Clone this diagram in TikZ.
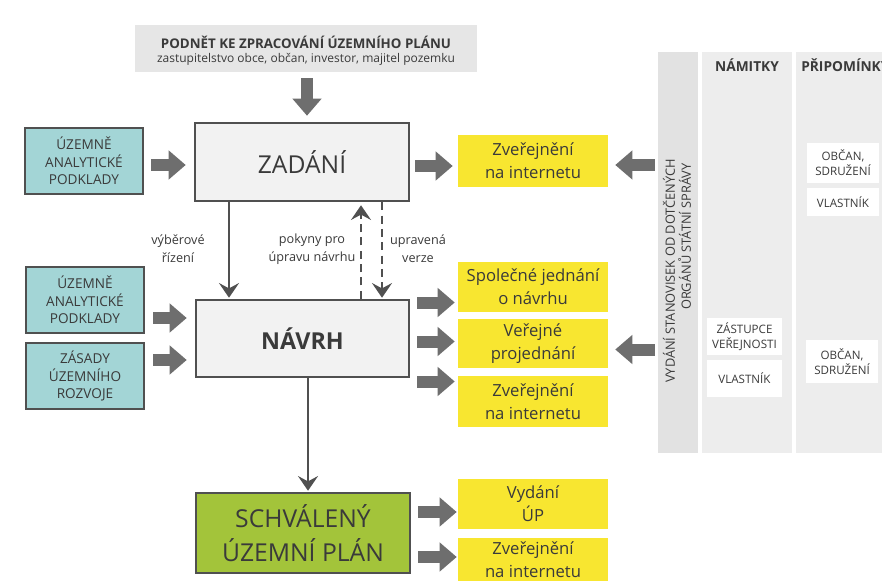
\documentclass[tikz,border=0pt]{standalone}
\usepackage{fontspec}
\setmainfont{Open Sans}
\usetikzlibrary{arrows.meta}
\definecolor{txt}{RGB}{58,58,58}
\definecolor{frame}{RGB}{80,80,80}
\definecolor{lightbox}{RGB}{242,242,242}
\definecolor{podnetc}{RGB}{230,230,230}
\definecolor{cyanc}{RGB}{163,213,214}
\definecolor{yel}{RGB}{248,230,48}
\definecolor{grn}{RGB}{163,196,58}
\definecolor{arrowc}{RGB}{110,110,110}
\definecolor{colA}{RGB}{226,226,226}
\definecolor{colB}{RGB}{237,237,237}
\begin{document}
\begin{tikzpicture}[x=0.75pt,y=-0.75pt,
  every node/.style={text=txt, inner sep=0pt, align=center},
  sz/.style 2 args={minimum width=#1*0.75pt, minimum height=#2*0.75pt},
  bigbox/.style={draw=frame, line width=1.9pt, fill=lightbox, font=\fontsize{18.5}{22}\selectfont},
  cyanbox/.style={draw=frame, line width=1.6pt, fill=cyanc, sz={118}{66}, font=\fontsize{10.2}{13.3}\selectfont},
  yelbox/.style={fill=yel, sz={150}{50}, font=\fontsize{12.5}{17.5}\selectfont},
  lbl/.style={font=\fontsize{9.5}{13.3}\selectfont},
  whitebox/.style={fill=white, font=\fontsize{8.7}{11.25}\selectfont},
  colbox/.style={fill=colB},
  blk/.style={draw=arrowc, line width=9pt, -{Triangle[length=12.75pt, width=21pt]}},
  thinarr/.style={draw=frame, line width=1.8pt, -{Stealth[length=11pt, width=15pt, inset=4pt]}},
  dasharr/.style={thinarr, dash pattern=on 6pt off 4pt}
]
\clip (0,0) rectangle (882,581);
\fill[white] (0,0) rectangle (882,581);

% top source
\node[fill=podnetc, sz={342}{47}] (podnet) at (306,48.5) {};
\node[font=\fontsize{10}{12.5}\selectfont\bfseries] (podnetT) at (306,42) {PODNĚT KE ZPRACOVÁNÍ ÚZEMNÍHO PLÁNU};
\node[font=\fontsize{9}{12}\selectfont] (podnetS) at (306,59) {zastupitelstvo obce, občan, investor, majitel pozemku};

% main boxes
\node[bigbox, sz={214}{78}] (zadani) at (302,162) {ZADÁNÍ};
\node[bigbox, sz={213}{77}, font=\fontsize{17.5}{22}\selectfont\bfseries] (navrh) at (302.5,338.5) {NÁVRH};
\node[bigbox, fill=grn, sz={214}{80}, font=\fontsize{18.5}{25}\selectfont] (schval) at (303,533) {SCHVÁLENÝ\\ÚZEMNÍ PLÁN};

% cyan inputs
\node[cyanbox] (c1) at (84,161) {ÚZEMNĚ\\ANALYTICKÉ\\PODKLADY};
\node[cyanbox] (c2) at (85,300) {ÚZEMNĚ\\ANALYTICKÉ\\PODKLADY};
\node[cyanbox] (c3) at (85,376) {ZÁSADY\\ÚZEMNÍHO\\ROZVOJE};

% yellow outputs
\node[yelbox, sz={150}{52}] (y1) at (533,161) {Zveřejnění\\na internetu};
\node[yelbox] (y2) at (533,287) {Společné jednání\\o návrhu};
\node[yelbox, sz={150}{49}] (y3) at (533,343.5) {Veřejné\\projednání};
\node[yelbox, sz={150}{51}] (y4) at (533,401.5) {Zveřejnění\\na internetu};
\node[yelbox] (y5) at (533,504) {Vydání\\ÚP};
\node[yelbox, sz={150}{43}] (y6) at (533,559.5) {Zveřejnění\\na internetu};

% right panel
\node[colbox, fill=colA, sz={40}{401}] (col1) at (678,252.5) {};
\node[colbox, sz={90}{401}] (col2) at (747,252.5) {};
\node[colbox, sz={99}{401}] (col3) at (845.5,252.5) {};
\node[rotate=90, font=\fontsize{9.6}{12}\selectfont, align=right] (stan) at (677,271) {VYDÁNÍ STANOVISEK OD DOTČENÝCH\\ORGÁNŮ STÁTNÍ SPRÁVY\kern3pt};
\node[font=\fontsize{10.3}{12}\selectfont\bfseries] (nam) at (747,65) {NÁMITKY};
\node[font=\fontsize{10.3}{12}\selectfont\bfseries, anchor=west] (pri) at (801,65) {PŘIPOMÍNKY};
\node[whitebox, sz={72}{40}] (w1) at (843,163) {OBČAN,\\SDRUŽENÍ};
\node[whitebox, sz={72}{28}] (w2) at (843,202) {VLASTNÍK};
\node[whitebox, sz={75}{37}] (w3) at (744.5,336.5) {ZÁSTUPCE\\VEŘEJNOSTI};
\node[whitebox, sz={75}{37}] (w4) at (744.5,378.5) {VLASTNÍK};
\node[whitebox, sz={72}{43}] (w5) at (842,361.5) {OBČAN,\\SDRUŽENÍ};

% labels
\node[lbl] (l1) at (178,249) {výběrové\\řízení};
\node[lbl] (l2) at (312,249) {pokyny pro\\úpravu návrhu};
\node[lbl] (l3) at (418,249) {upravená\\verze};

% block arrows
\draw[blk] ([shift={(1,6)}]podnet.south) -- ([shift={(5,-6)}]zadani.north);
\draw[blk] ([shift={(7,4)}]c1.east) -- ([shift={(-8,4)}]c1.east -| zadani.west);
\draw[blk] ([shift={(5,4)}]zadani.east) -- ([shift={(-5,4)}]zadani.east -| y1.west);
\draw[blk] ([shift={(-3,4)}]y1.east -| col1.west) -- ([shift={(7,4)}]y1.east);
\draw[blk] ([shift={(8,18)}]c2.east) -- ([shift={(-8,18)}]c2.east -| navrh.west);
\draw[blk] ([shift={(8,-16)}]c3.east) -- ([shift={(-8,-16)}]c3.east -| navrh.west);
\draw[blk] ([shift={(7,-36)}]navrh.east) -- ([shift={(-3,-36)}]navrh.east -| y2.west);
\draw[blk] ([shift={(7,3)}]navrh.east) -- ([shift={(-3,3)}]navrh.east -| y3.west);
\draw[blk] ([shift={(7,43)}]navrh.east) -- ([shift={(-3,43)}]navrh.east -| y4.west);
\draw[blk] ([shift={(-3,6)}]y3.east -| col1.west) -- ([shift={(7,6)}]y3.east);
\draw[blk] ([shift={(7,-21)}]schval.east) -- ([shift={(-1,-21)}]schval.east -| y5.west);
\draw[blk] ([shift={(7,24)}]schval.east) -- ([shift={(-1,24)}]schval.east -| y6.west);

% thin connectors
\draw[thinarr] ([shift={(-73,0)}]zadani.south) -- ([shift={(-73,-1)}]zadani.south |- navrh.north);
\draw[dasharr] ([shift={(59,0)}]zadani.south |- navrh.north) -- ([shift={(59,3)}]zadani.south);
\draw[dasharr] ([shift={(80,0)}]zadani.south) -- ([shift={(80,-1)}]zadani.south |- navrh.north);
\draw[thinarr] ([shift={(5.5,0)}]navrh.south) -- ([shift={(5.5,-1)}]navrh.south |- schval.north);
\end{tikzpicture}
\end{document}
